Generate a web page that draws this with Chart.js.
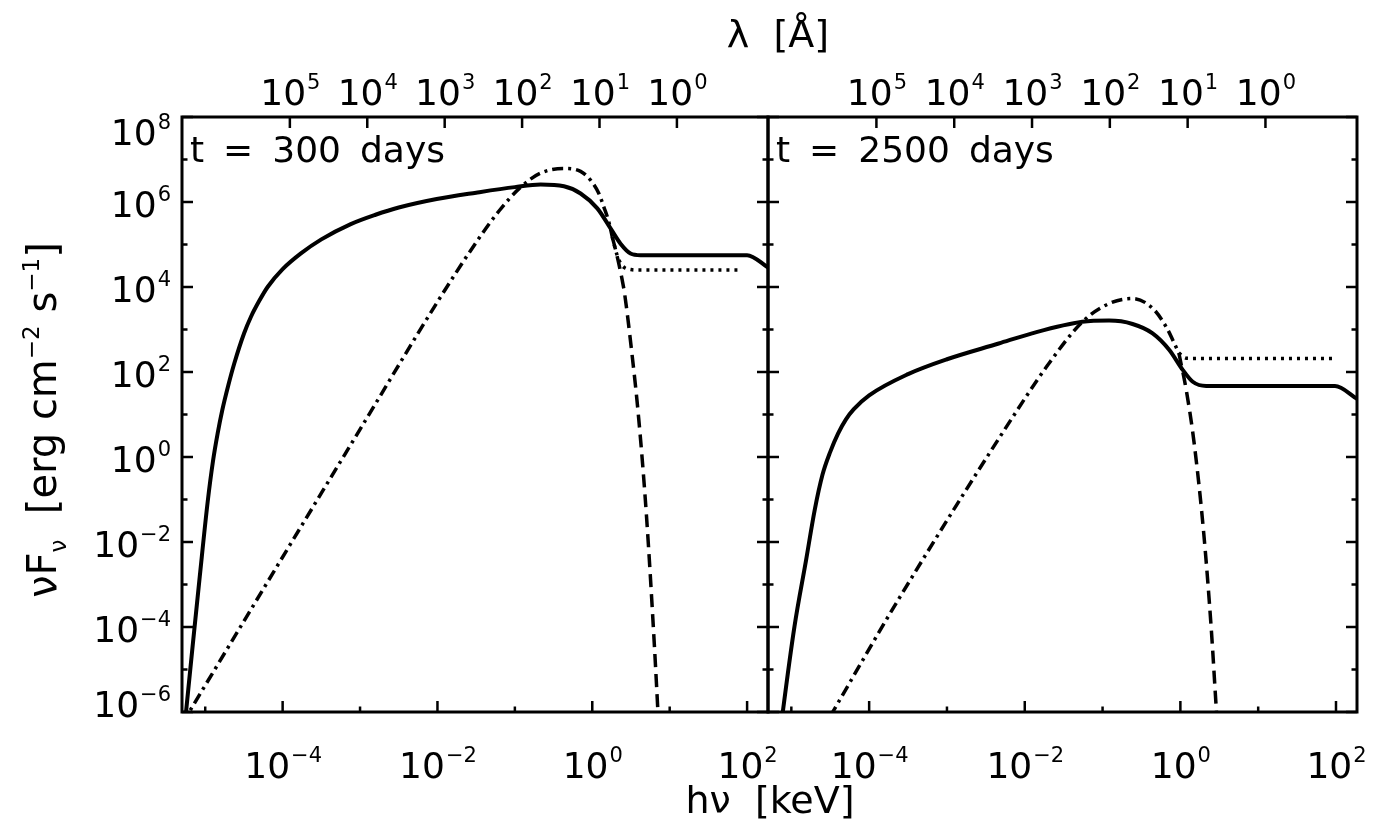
<!DOCTYPE html>
<html>
<head>
<meta charset="utf-8">
<script src="https://cdn.jsdelivr.net/npm/chart.js@4.4.1/dist/chart.umd.min.js"></script>
<style>
  body { margin: 0; background: #fff; }
  #wrap { position: relative; width: 1395px; height: 825px; }
  #wrap canvas { position: absolute; top: 0; }
</style>
</head>
<body>
<div id="wrap">
  <canvas id="leftPanel" width="1395" height="825" style="left:0"></canvas>
  <canvas id="rightPanel" width="635" height="825" style="left:760px"></canvas>
</div>
<script>
/* ==================== 数据（log10 数值） ==================== */
// 坐标范围：x 为 hν [keV]，y 为 νFν
const X_MIN_LOG = -5.3, X_MAX_LOG = 2.27;
const Y_MIN_LOG = -6, Y_MAX_LOG = 8;

// 刻度
const X_TICK_EXP = [-4, -2, 0, 2];
const X_MINOR_EXP = [-5, -3, -1, 1];
const Y_TICK_EXP = [-6, -4, -2, 0, 2, 4, 6, 8];
const Y_MINOR_EXP = [-5, -3, -1, 1, 3, 5, 7];
const LAMBDA_TICK_EXP = [5, 4, 3, 2, 1, 0];
const HC = 12.398;  // keV·Å

const PANEL_LABELS = ['t = 300 days', 't = 2500 days'];

// 左图 t = 300 days
const L_SOLID_E = [-5.27, -5.248, -5.16, -5.07, -4.968, -4.9, -4.84, -4.78, -4.7, -4.625, -4.5, -4.409, -4.3, -4.194, -4.0, -3.764, -3.5, -3.12, -2.8, -2.5, -2.01, -1.5, -1.0, -0.667, -0.366, -0.151, 0.065, 0.236, 0.365, 0.494, 0.623, 2.0, 2.27];
const L_SOLID_F = [-6.4, -6.0, -4.4, -2.8, -1.05, -0.1, 0.55, 1.1, 1.7, 2.2, 2.9, 3.3, 3.68, 4.0, 4.42, 4.79, 5.12, 5.48, 5.7, 5.87, 6.07, 6.22, 6.35, 6.41, 6.37, 6.2, 5.85, 5.38, 5.02, 4.79, 4.75, 4.75, 4.46];
const L_BB_E = [-5.3, -4.022, -3.0, -2.0, -1.5, -1.2, -0.925, -0.667, -0.366, -0.151, -0.02, 0.085, 0.15, 0.214, 0.258];
const L_BB_F = [-6.28, -2.42, 0.65, 3.65, 5.05, 5.8, 6.35, 6.68, 6.79, 6.72, 6.51, 6.2, 5.88, 5.53, 5.18];
const L_TAIL_E = [0.258, 0.323, 0.387, 0.417, 0.5, 0.6, 0.7, 0.8, 0.86];
const L_TAIL_F = [5.18, 4.71, 4.16, 3.85, 2.63, 0.9, -1.38, -4.36, -6.4];
const L_PLAT_E = [0.258, 0.32, 0.365, 0.42, 0.5, 0.55, 1.914];
const L_PLAT_F = [5.18, 4.75, 4.56, 4.45, 4.41, 4.4, 4.4];

// 右图 t = 2500 days
const R_SOLID_E = [-5.13, -5.11, -4.96, -4.81, -4.7, -4.6, -4.5, -4.4, -4.3, -4.2, -4.0, -3.5, -3.0, -2.335, -1.906, -1.261, -0.916, -0.615, -0.357, -0.142, 0.03, 0.159, 0.332, 1.987, 2.27];
const R_SOLID_F = [-6.3, -6.0, -3.99, -2.42, -1.25, -0.42, 0.12, 0.55, 0.88, 1.12, 1.45, 1.95, 2.3, 2.67, 2.91, 3.18, 3.21, 3.13, 2.91, 2.52, 2.05, 1.77, 1.67, 1.67, 1.37];
const R_BB_E = [-4.5, -3.626, -1.99, -1.69, -1.26, -0.916, -0.615, -0.357, -0.185, -0.056, -0.02];
const R_BB_F = [-6.1, -3.36, 1.4, 2.2, 3.18, 3.61, 3.73, 3.5, 3.07, 2.59, 2.45];
const R_TAIL_E = [-0.02, 0.075, 0.176, 0.301, 0.398, 0.462, 0.475];
const R_TAIL_F = [2.45, 1.58, 0.34, -1.81, -4.07, -5.94, -6.3];
const R_PLAT_E = [-0.02, 0.05, 0.12, 1.965];
const R_PLAT_F = [2.45, 2.34, 2.32, 2.32];

/* ==================== 样式 ==================== */
const FONT = '"DejaVu Sans", sans-serif';
const BASE_PX = 36, SUP_PX = 21;

// 把 log10 数组转换为 {x, y} 点
const pts = (le, lf) => le.map((e, i) => ({ x: Math.pow(10, e), y: Math.pow(10, lf[i]) }));

// 画 "10^n" 形式的文字
function drawPow(ctx, base, exp, x, y, align) {
    ctx.font = BASE_PX + 'px ' + FONT;
    const wb = ctx.measureText(base).width;
    ctx.font = SUP_PX + 'px ' + FONT;
    const we = ctx.measureText(exp).width;
    let x0 = x;
    if (align === 'right') x0 = x - wb - we;
    if (align === 'center') x0 = x - (wb + we) / 2;
    ctx.textAlign = 'left';
    ctx.textBaseline = 'alphabetic';
    ctx.font = BASE_PX + 'px ' + FONT;
    ctx.fillText(base, x0, y);
    ctx.font = SUP_PX + 'px ' + FONT;
    ctx.fillText(exp, x0 + wb + 1, y - 16);
}
const expStr = e => (e < 0 ? '\u2212' + (-e) : String(e));

// 分段文字（上标 / 下标）
function drawRich(ctx, parts, x, y, big, small) {
    const w = parts.map(p => { ctx.font = (p.s ? small : big) + 'px ' + FONT; return ctx.measureText(p.t).width; });
    const total = w.reduce((a, b) => a + b, 0);
    let cx = x - total / 2;
    ctx.textAlign = 'left';
    ctx.textBaseline = 'alphabetic';
    parts.forEach((p, i) => {
        ctx.font = (p.s ? small : big) + 'px ' + FONT;
        ctx.fillText(p.t, cx, y + (p.s || 0));
        cx += w[i];
    });
}

/* ==================== 边框、刻度与文字插件 ==================== */
const framePlugin = {
    id: 'frame',
    afterDatasetsDraw(chart, args, opts) {
        const { ctx, chartArea: a, scales: { x, y } } = chart;
        ctx.save();
        ctx.fillStyle = '#000';
        ctx.strokeStyle = '#000';
        const seg = (x1, y1, x2, y2) => { ctx.beginPath(); ctx.moveTo(x1, y1); ctx.lineTo(x2, y2); ctx.stroke(); };

        ctx.lineWidth = 2.5;
        // 下方 x 刻度
        X_TICK_EXP.forEach(e => { const px = x.getPixelForValue(Math.pow(10, e)); seg(px, a.bottom, px, a.bottom - 11); });
        X_MINOR_EXP.forEach(e => { const px = x.getPixelForValue(Math.pow(10, e)); seg(px, a.bottom, px, a.bottom - 5.5); });
        // 上方 λ 刻度
        LAMBDA_TICK_EXP.forEach(e => { const px = x.getPixelForValue(HC / Math.pow(10, e)); seg(px, a.top, px, a.top + 11); });
        // 左右 y 刻度
        Y_TICK_EXP.forEach(e => {
            const py = y.getPixelForValue(Math.pow(10, e));
            seg(a.left, py, a.left + 11, py); seg(a.right, py, a.right - 11, py);
        });
        Y_MINOR_EXP.forEach(e => {
            const py = y.getPixelForValue(Math.pow(10, e));
            seg(a.left, py, a.left + 5.5, py); seg(a.right, py, a.right - 5.5, py);
        });

        // 边框
        ctx.lineWidth = 3;
        ctx.strokeRect(a.left, a.top, a.right - a.left, a.bottom - a.top);

        // 刻度标签
        X_TICK_EXP.forEach(e => drawPow(ctx, '10', expStr(e), x.getPixelForValue(Math.pow(10, e)), 778, 'center'));
        LAMBDA_TICK_EXP.forEach(e => drawPow(ctx, '10', expStr(e), x.getPixelForValue(HC / Math.pow(10, e)), 105, 'center'));
        if (opts.yLabels) {
            Y_TICK_EXP.forEach(e => {
                let base = y.getPixelForValue(Math.pow(10, e)) + 15;
                if (e === Y_MAX_LOG) base = a.top + 28;
                if (e === Y_MIN_LOG) base = a.bottom + 5;
                drawPow(ctx, '10', expStr(e), 170, base, 'right');
            });
        }

        // 面板标签
        ctx.font = '36px ' + FONT;
        ctx.textAlign = 'left';
        let tx = a.left + 8;
        opts.label.split(' ').forEach(word => { ctx.fillText(word, tx, 162); tx += ctx.measureText(word).width + 19; });

        // 坐标轴标题
        if (opts.titles) {
            drawRich(ctx, [{ t: '\u03bb  [\u00c5]' }], 778, 47, 38, 22);
            drawRich(ctx, [{ t: 'h\u03bd  [keV]' }], 770, 813, 38, 22);
            ctx.save();
            ctx.translate(56, 420);
            ctx.rotate(-Math.PI / 2);
            drawRich(ctx, [
                { t: '\u03bdF' }, { t: '\u03bd', s: 10 }, { t: '  [erg cm' }, { t: '\u22122', s: -17 },
                { t: ' s' }, { t: '\u22121', s: -17 }, { t: ']' }
            ], 0, 0, 40, 23);
            ctx.restore();
        }
        ctx.restore();
    }
};

/* ==================== 创建图表 ==================== */
function makePanel(id, series, padding, frameOpts) {
    const line = (data, dash) => ({
        data: data,
        borderColor: '#000',
        borderWidth: dash.length ? 3.5 : 4,
        borderDash: dash,
        borderCapStyle: 'butt',
        pointRadius: 0,
        fill: false,
        cubicInterpolationMode: 'monotone'
    });
    return new Chart(document.getElementById(id), {
        type: 'line',
        data: {
            datasets: [
                line(pts(series.bbE, series.bbF), [11, 5, 3, 5]),   /* 点划线 */
                line(pts(series.tailE, series.tailF), [13, 7]),     /* 虚线 */
                line(pts(series.platE, series.platF), [3, 5]),      /* 点线 */
                line(pts(series.solidE, series.solidF), [])         /* 实线 */
            ]
        },
        options: {
            responsive: false,
            animation: false,
            devicePixelRatio: 1,
            layout: { padding: padding },
            plugins: { legend: { display: false }, tooltip: { enabled: false }, frame: frameOpts },
            scales: {
                x: { type: 'logarithmic', min: Math.pow(10, X_MIN_LOG), max: Math.pow(10, X_MAX_LOG), display: false },
                y: { type: 'logarithmic', min: Math.pow(10, Y_MIN_LOG), max: Math.pow(10, Y_MAX_LOG), display: false }
            }
        },
        plugins: [framePlugin]
    });
}

makePanel('leftPanel',
    { solidE: L_SOLID_E, solidF: L_SOLID_F, bbE: L_BB_E, bbF: L_BB_F, tailE: L_TAIL_E, tailF: L_TAIL_F, platE: L_PLAT_E, platF: L_PLAT_F },
    { left: 182, right: 627, top: 117, bottom: 113 },
    { label: PANEL_LABELS[0], yLabels: true, titles: true });

makePanel('rightPanel',
    { solidE: R_SOLID_E, solidF: R_SOLID_F, bbE: R_BB_E, bbF: R_BB_F, tailE: R_TAIL_E, tailF: R_TAIL_F, platE: R_PLAT_E, platF: R_PLAT_F },
    { left: 8, right: 38, top: 117, bottom: 113 },
    { label: PANEL_LABELS[1], yLabels: false, titles: false });
</script>
</body>
</html>
